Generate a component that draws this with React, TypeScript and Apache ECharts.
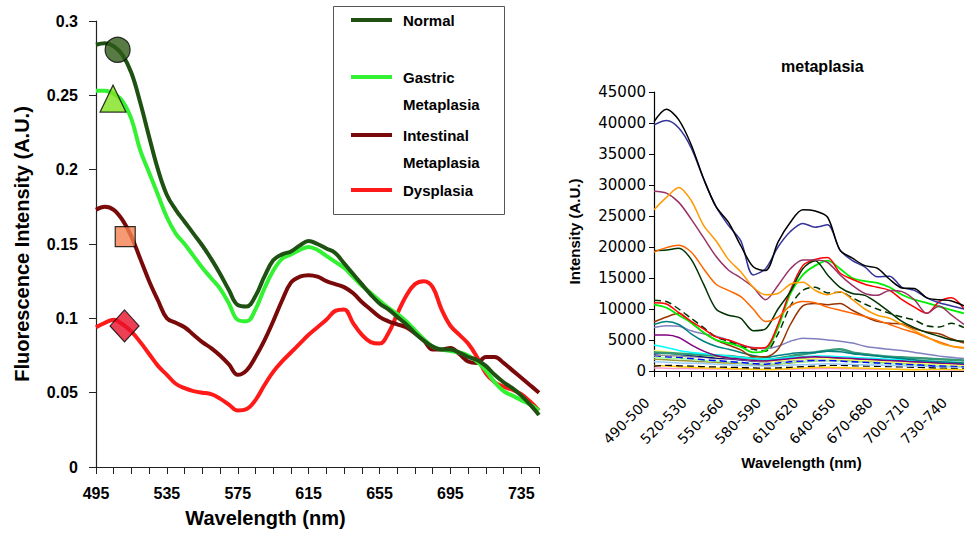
import React, { useEffect, useRef } from "react";
import * as echarts from "echarts";

// ---------- Left chart data (wavelength step 5 nm) ----------
const wavelengths = [
  "495","500","505","510","515","520","525","530","535","540",
  "545","550","555","560","565","570","575","580","585","590",
  "595","600","605","610","615","620","625","630","635","640",
  "645","650","655","660","665","670","675","680","685","690",
  "695","700","705","710","715","720","725","730","735","740","745",
];
const normal = [0.284,0.285,0.283,0.277,0.265,0.245,0.222,0.2,0.183,0.173,0.165,0.157,0.149,0.14,0.13,0.119,0.109,0.108,0.115,0.128,0.139,0.143,0.145,0.149,0.152,0.15,0.147,0.144,0.137,0.13,0.123,0.116,0.11,0.106,0.101,0.096,0.09,0.085,0.081,0.079,0.079,0.077,0.074,0.072,0.068,0.062,0.057,0.053,0.048,0.042,0.035];
const gastric = [0.253,0.253,0.251,0.246,0.234,0.213,0.198,0.183,0.168,0.157,0.15,0.142,0.134,0.127,0.12,0.11,0.099,0.098,0.106,0.12,0.132,0.14,0.143,0.146,0.148,0.146,0.142,0.138,0.134,0.128,0.122,0.117,0.112,0.107,0.103,0.098,0.092,0.086,0.081,0.079,0.078,0.077,0.075,0.071,0.065,0.057,0.051,0.048,0.045,0.042,0.038];
const intestinal = [0.173,0.175,0.173,0.166,0.155,0.14,0.125,0.112,0.1,0.097,0.094,0.089,0.084,0.08,0.075,0.069,0.062,0.065,0.074,0.085,0.098,0.112,0.124,0.128,0.129,0.128,0.125,0.123,0.121,0.117,0.111,0.106,0.101,0.098,0.096,0.094,0.09,0.085,0.079,0.079,0.08,0.076,0.071,0.07,0.074,0.074,0.07,0.065,0.06,0.055,0.05];
const dysplasia = [0.094,0.097,0.099,0.096,0.091,0.084,0.076,0.068,0.062,0.056,0.053,0.051,0.05,0.049,0.046,0.042,0.038,0.039,0.045,0.055,0.064,0.071,0.077,0.083,0.089,0.094,0.099,0.105,0.106,0.097,0.089,0.084,0.083,0.09,0.103,0.115,0.123,0.125,0.121,0.106,0.095,0.089,0.083,0.074,0.063,0.057,0.054,0.052,0.049,0.044,0.038];
const leftSeriesNames = ["Normal", "Gastric Metaplasia", "Intestinal Metaplasia", "Dysplasia"];
const markerWavelengths = [507.2, 504.6, 511.5, 511.1];
const markerValues = [0.2806, 0.2478, 0.155, 0.0949];
const leftYTicks = [0, 0.05, 0.1, 0.15, 0.2, 0.25, 0.3];

// ---------- Right chart data (10 nm bins) ----------
const bins = [
  "490-500","500-510","510-520","520-530","530-540","540-550","550-560","560-570","570-580","580-590",
  "590-600","600-610","610-620","620-630","630-640","640-650","650-660","660-670","670-680","680-690",
  "690-700","700-710","710-720","720-730","730-740","740-750",
];
const sBlack = [40200,42200,40500,36500,31000,26500,24000,20200,16800,16200,20800,24000,26000,25800,24800,19500,18200,17000,16600,14800,13400,13300,11800,11500,11300,10500];
const sBlue = [39700,40400,39200,36000,31000,26500,23500,21000,15500,16500,20000,22500,23800,23200,23600,19500,17800,16800,15200,15300,13500,13000,11800,11000,10500,10000];
const sOrange = [26000,28000,29600,27500,23500,21000,18000,16000,13500,12300,12500,14000,14300,13000,12300,12800,11500,10000,9000,8500,7500,6500,5500,4500,4000,3800];
const sPlum = [29000,28700,27200,24500,21500,18500,16300,15000,13500,11500,13800,16500,17900,17900,17500,15500,13800,12500,12200,13000,12800,11500,9300,10500,9000,7500];
const sDarkOrange = [19200,19900,20300,19200,16500,14000,13000,12000,10000,8000,8700,10500,11200,11000,10300,9800,9300,8800,8200,7500,6800,6200,5400,4700,4000,3700];
const sDarkGreen = [19400,19500,19800,18000,14000,10000,9000,8500,6500,6800,10000,12800,16500,17800,15500,13500,12500,12200,11000,9500,8000,7000,6200,5600,5000,4800];
const sRed = [11000,10800,9400,8000,6800,5500,5000,4300,3700,3800,7500,13000,17000,18000,18300,15800,14800,14000,13500,13000,11500,10300,9300,11200,11800,10000];
const sGreen = [10700,10200,9000,7800,6200,5000,4500,3900,3000,3300,7000,12500,15500,17000,17800,16500,15000,14500,14200,13500,12300,11500,11000,10400,9800,9300];
const sDashedGreen = [11400,11200,10000,8500,7000,5500,4800,4000,3500,3200,6000,10500,13000,13500,12600,12700,11800,10800,10000,9300,8700,8200,7300,7100,7700,7000];
const sBrown = [7900,8700,9300,7800,6200,5000,4200,3400,2300,2300,3500,7500,10500,10900,10700,10900,9800,8800,8000,7700,7600,6800,6300,6000,5200,4500];
const sTeal = [7500,8000,7500,6000,4800,4000,3500,3000,2500,2200,2500,2800,3000,3000,3200,3100,2800,2600,2400,2200,2000,1800,1600,1500,1400,1300];
const sLavender = [7000,7300,7200,6500,6000,5600,5000,4200,3800,3600,4000,4800,5300,5200,5000,4800,4500,4000,3700,3500,3300,3000,2700,2400,2200,2000];
const sPurple = [5800,5800,5400,4200,3200,2500,2100,1900,1700,1600,1800,2000,2200,2300,2200,2100,2000,1900,1800,1700,1600,1500,1400,1300,1200,1100];
const sCyan = [4200,3800,3300,3000,2800,2600,2400,2200,2000,1900,2000,2200,2300,2400,2400,2300,2200,2100,2000,1900,1800,1700,1600,1500,1400,1300];
const sSeaGreen = [3000,2900,2800,2700,2600,2500,2400,2200,2000,1800,2000,2400,2700,3000,3300,3500,3000,2700,2500,2300,2200,2100,2000,1900,1800,1700];
const sPaleYellow = [3300,3100,2900,2700,2500,2300,2100,1900,1700,1500,1600,1800,1900,2000,2000,1900,1800,1700,1600,1500,1400,1300,1200,1100,1000,900];
const sNavy = [2800,2900,2700,2500,2300,2100,2000,1800,1600,1500,1600,1800,1900,2000,2100,2000,1900,1800,1700,1700,1600,1500,1400,1300,1200,1100];
const sGray = [2600,2500,2400,2300,2200,2000,1900,1800,1700,1600,1700,1900,2000,2100,2100,2000,1900,1800,1700,1600,1500,1400,1300,1200,1100,1000];
const sPureBlue = [2500,2300,2200,2000,1800,1700,1500,1400,1200,1100,1300,1500,1600,1700,1700,1600,1500,1400,1300,1200,1100,1000,900,800,800,700];
const sLightGreen = [2200,2100,2000,1900,1700,1600,1500,1300,1200,1100,1200,1400,1500,1600,1700,1600,1500,1400,1300,1200,1100,1000,950,900,850,800];
const sOlive = [1900,1800,1700,1600,1500,1400,1300,1200,1100,1000,1100,1300,1500,1600,1700,1700,1600,1500,1400,1300,1200,1100,1000,950,900,850];
const sLightBlue = [1500,1400,1300,1250,1200,1100,1000,900,850,800,850,950,1000,1100,1150,1100,1050,1000,950,900,850,800,750,700,650,600];
const sBlackDashed = [800,900,850,800,700,650,600,550,500,450,500,600,700,800,900,900,850,800,750,700,650,600,550,500,480,450];
const sYellow = [900,800,700,600,500,450,400,350,300,250,300,400,500,550,600,550,500,450,400,300,250,200,250,300,250,200];
const sPink = [500,450,400,380,350,320,300,280,250,230,250,300,350,380,400,380,350,330,300,280,260,240,220,200,180,170];
const rightYTicks = [0, 5000, 10000, 15000, 20000, 25000, 30000, 35000, 40000, 45000];

const rightLines: [string, number[], string, boolean, number][] = [
  ["Sample 25", sPink, "#FF99CC", false, 1.5],
  ["Sample 24", sYellow, "#FFCC00", false, 1.5],
  ["Sample 23", sBlackDashed, "#000000", true, 1.3],
  ["Sample 22", sLightBlue, "#99CCFF", false, 1.5],
  ["Sample 21", sOlive, "#999933", false, 1.5],
  ["Sample 20", sLightGreen, "#99FF99", false, 1.5],
  ["Sample 19", sPureBlue, "#0000FF", true, 1.5],
  ["Sample 18", sGray, "#969696", false, 1.5],
  ["Sample 17", sNavy, "#000080", false, 1.5],
  ["Sample 16", sPaleYellow, "#FFFF66", false, 1.5],
  ["Sample 15", sSeaGreen, "#339977", false, 2.5],
  ["Sample 14", sCyan, "#00FFFF", false, 1.5],
  ["Sample 13", sPurple, "#800080", false, 1.5],
  ["Sample 12", sLavender, "#8080C0", false, 1.5],
  ["Sample 11", sTeal, "#008080", false, 1.5],
  ["Sample 10", sBrown, "#993300", false, 1.5],
  ["Sample 9", sDashedGreen, "#003300", true, 1.5],
  ["Sample 8", sGreen, "#00EE00", false, 1.8],
  ["Sample 7", sRed, "#FF0000", false, 1.5],
  ["Sample 6", sDarkGreen, "#003300", false, 1.5],
  ["Sample 5", sDarkOrange, "#FF6600", false, 1.5],
  ["Sample 4", sPlum, "#993366", false, 1.5],
  ["Sample 3", sOrange, "#FF9900", false, 1.5],
  ["Sample 2", sBlue, "#333399", false, 1.5],
  ["Sample 1", sBlack, "#000000", false, 1.5],
];

const LEFT_FONT = "Liberation Sans, Arial, sans-serif";
const RIGHT_FONT = "DejaVu Sans, sans-serif";

export default function App() {
  const ref = useRef<HTMLDivElement>(null);

  useEffect(() => {
    if (!ref.current) return;
    const chart = echarts.init(ref.current, null, { renderer: "svg" });

    const leftColors = ["#1F5212", "#33F233", "#7A0A0A", "#FF1A1A"];
    const leftData = [normal, gastric, intestinal, dysplasia];
    const markerSymbols = ["circle", "triangle", "rect", "diamond"];
    const markerSizes = [[25, 25], [26, 27], [20, 20], [29, 32]];
    const markerFill = ["#2E5A16", "#7FE21C", "#F2814F", "#E8102A"];

    const series: any[] = [];
    leftData.forEach((d, i) => {
      series.push({
        name: leftSeriesNames[i],
        type: "line",
        xAxisIndex: 0,
        yAxisIndex: 0,
        data: d,
        smooth: 0.4,
        showSymbol: false,
        lineStyle: { color: leftColors[i], width: 4 },
        z: 3 + (3 - i),
      });
    });
    markerWavelengths.forEach((w, i) => {
      series.push({
        name: leftSeriesNames[i] + " marker",
        type: "scatter",
        xAxisIndex: 1,
        yAxisIndex: 0,
        data: [[w, markerValues[i]]],
        symbol: markerSymbols[i],
        symbolSize: markerSizes[i],
        itemStyle: { color: markerFill[i], borderColor: "#000", borderWidth: 1.2 },
        z: 10,
      });
    });
    rightLines.forEach(([name, d, color, dashed, w]) => {
      series.push({
        name,
        type: "line",
        xAxisIndex: 2,
        yAxisIndex: 1,
        data: d,
        smooth: 0.3,
        showSymbol: false,
        lineStyle: { color, width: w, type: dashed ? [7, 4] : "solid" },
      });
    });

    const legendRows = [
      { y: 20, label: "Normal", color: leftColors[0] },
      { y: 77, label: "Gastric", color: leftColors[1] },
      { y: 104, label: "Metaplasia", color: null },
      { y: 135, label: "Intestinal", color: leftColors[2] },
      { y: 162, label: "Metaplasia", color: null },
      { y: 190, label: "Dysplasia", color: leftColors[3] },
    ];
    const graphics: any[] = [
      {
        type: "rect",
        shape: { x: 333.5, y: 6.5, width: 171, height: 208 },
        style: { fill: "#fff", stroke: "#555", lineWidth: 1 },
        z: 20,
      },
    ];
    legendRows.forEach((r) => {
      if (r.color) {
        graphics.push({
          type: "line",
          shape: { x1: 351, y1: r.y, x2: 392, y2: r.y },
          style: { stroke: r.color, lineWidth: 4 },
          z: 21,
        });
      }
      graphics.push({
        type: "text",
        x: 403,
        y: r.y,
        style: {
          text: r.label,
          font: `bold 15px ${LEFT_FONT}`,
          fill: "#000",
          verticalAlign: "middle",
          align: "left",
        },
        z: 21,
      });
    });

    const option: any = {
      animation: false,
      backgroundColor: "#fff",
      title: {
        text: "metaplasia",
        left: 776,
        top: 53,
        textStyle: { fontSize: 16, fontWeight: "bold", color: "#000", fontFamily: LEFT_FONT },
      },
      grid: [
        { left: 96, top: 21, width: 443, height: 448 },
        { left: 654, top: 92, width: 315, height: 279 },
      ],
      xAxis: [
        {
          type: "category",
          gridIndex: 0,
          data: wavelengths,
          boundaryGap: false,
          axisLine: { lineStyle: { color: "#222", width: 1.2 } },
          axisTick: { show: true, interval: 1, length: 7, lineStyle: { color: "#222" } },
          axisLabel: {
            interval: 7,
            margin: 18,
            color: "#000",
            fontSize: 16,
            fontWeight: "bold",
            fontFamily: LEFT_FONT,
          },
          splitLine: { show: false },
          name: "Wavelength (nm)",
          nameLocation: "middle",
          nameGap: 41,
          nameTextStyle: {
            fontSize: 20,
            fontWeight: "bold",
            color: "#000",
            fontFamily: LEFT_FONT,
            padding: [0, 104, 0, 0],
          },
        },
        {
          type: "value",
          gridIndex: 0,
          min: 495,
          max: 745,
          show: false,
        },
        {
          type: "category",
          gridIndex: 1,
          data: bins,
          boundaryGap: false,
          axisLine: { lineStyle: { color: "#000", width: 1.2 } },
          axisTick: { show: true, interval: 0, length: 6, lineStyle: { color: "#000" } },
          axisLabel: {
            interval: 2,
            rotate: 45,
            margin: 22,
            padding: [0, 10, 0, 0],
            color: "#000",
            fontSize: 14,
            fontFamily: RIGHT_FONT,
          },
          splitLine: { show: false },
          name: "Wavelength (nm)",
          nameLocation: "middle",
          nameGap: 84,
          nameTextStyle: {
            fontSize: 15,
            fontWeight: "bold",
            color: "#000",
            fontFamily: LEFT_FONT,
            padding: [0, 15, 0, 0],
          },
        },
      ],
      yAxis: [
        {
          type: "value",
          gridIndex: 0,
          min: leftYTicks[0],
          max: leftYTicks[leftYTicks.length - 1],
          interval: 0.05,
          axisLine: { show: true, lineStyle: { color: "#222", width: 1.2 } },
          axisTick: { show: true, length: 7, lineStyle: { color: "#222" } },
          axisLabel: {
            margin: 18,
            color: "#000",
            fontSize: 16,
            fontWeight: "bold",
            fontFamily: LEFT_FONT,
            formatter: (v: number) => String(Math.round(v * 100) / 100),
          },
          splitLine: { show: false },
          name: "Fluorescence Intensity (A.U.)",
          nameLocation: "middle",
          nameGap: 64,
          nameTextStyle: { fontSize: 20, fontWeight: "bold", color: "#000", fontFamily: LEFT_FONT },
        },
        {
          type: "value",
          gridIndex: 1,
          min: rightYTicks[0],
          max: rightYTicks[rightYTicks.length - 1],
          interval: 5000,
          axisLine: { show: true, lineStyle: { color: "#000", width: 1.2 } },
          axisTick: { show: true, length: 5, lineStyle: { color: "#000" } },
          axisLabel: {
            margin: 8,
            color: "#000",
            fontSize: 15,
            fontFamily: RIGHT_FONT,
            formatter: (v: number) => String(v),
          },
          splitLine: { show: false },
          name: "Intensity (A.U.)",
          nameLocation: "middle",
          nameGap: 72,
          nameTextStyle: { fontSize: 15, fontWeight: "bold", color: "#000", fontFamily: LEFT_FONT },
        },
      ],
      series,
      graphic: graphics,
    };

    chart.setOption(option);
    return () => chart.dispose();
  }, []);

  return (
    <div
      ref={ref}
      style={{ position: "absolute", left: 0, top: 0, width: 964, height: 533, background: "#fff" }}
    />
  );
}
